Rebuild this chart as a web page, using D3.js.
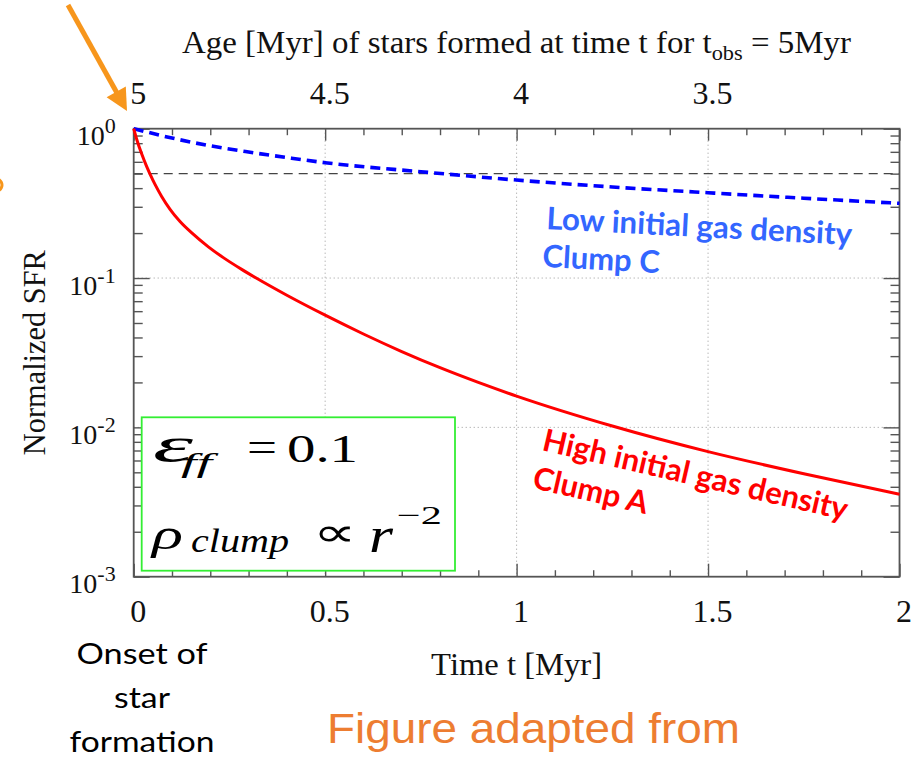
<!DOCTYPE html>
<html>
<head>
<meta charset="utf-8">
<script src="https://cdn.jsdelivr.net/npm/d3@7"></script>
<style>
  html, body { margin: 0; padding: 0; background: #fff; }
  svg { display: block; }
  .serif { font-family: "Liberation Serif", "Times New Roman", serif; }
</style>
</head>
<body>
<svg id="chart" width="913" height="761"></svg>
<script>
// Normalized star-formation rate of two clumps versus time since onset of star formation
const tObs = 5;                                   // observation epoch [Myr]
const timeTicks = [0, 0.5, 1, 1.5, 2];            // bottom axis (time t)
const ageTicks = [5, 4.5, 4, 3.5];                // top axis (age of stars)
const sfrTicks = [1, 0.1, 0.01, 0.001];           // log axis decades
const halfLevel = 0.5;                            // reference level

// Clump A: high initial gas density
const clumpATime = [0, 0.008, 0.021, 0.034, 0.043, 0.056, 0.073, 0.095, 0.121, 0.151, 0.195, 0.238,
                    0.282, 0.321, 0.4, 0.5, 0.6, 0.7, 0.8, 0.9, 1.0, 1.25, 1.5, 1.75, 2.0];
const clumpASfr  = [1, 0.847, 0.676, 0.557, 0.495, 0.422, 0.352, 0.2886, 0.239, 0.2012, 0.1618, 0.1349,
                    0.1143, 0.0996, 0.0767, 0.0564, 0.0422, 0.0322, 0.0251, 0.0200, 0.0162, 0.01021,
                    0.00688, 0.00489, 0.00357];

// Clump C: low initial gas density
const clumpCTime = [0, 0.1, 0.2, 0.3, 0.4, 0.5, 0.75, 1.0, 1.25, 1.5, 1.75, 2.0];
const clumpCSfr  = [1, 0.866, 0.768, 0.698, 0.641, 0.592, 0.515, 0.453, 0.407, 0.3726, 0.3424, 0.3165];

const svg = d3.select("#chart");
const plotLeft = 133.7, plotRight = 899.5, plotTop = 128.7, plotBottom = 576.7;

const x = d3.scaleLinear().domain([0, 2]).range([plotLeft, plotRight]);
const xAge = d3.scaleLinear().domain([tObs - 0, tObs - 2]).range([plotLeft, plotRight]);
const y = d3.scaleLog().domain([0.001, 1]).range([plotBottom, plotTop]);

const frameColor = "#555";

// grid
const grid = svg.append("g");
grid.selectAll("line.vg").data(timeTicks.slice(1, -1)).join("line")
  .attr("x1", d => x(d)).attr("x2", d => x(d)).attr("y1", plotTop).attr("y2", plotBottom)
  .attr("stroke", "#999").attr("stroke-width", 1).attr("stroke-dasharray", "1,3");
grid.selectAll("line.hg").data(sfrTicks.slice(1, -1)).join("line")
  .attr("x1", plotLeft).attr("x2", plotRight).attr("y1", d => y(d)).attr("y2", d => y(d))
  .attr("stroke", "#999").attr("stroke-width", 1).attr("stroke-dasharray", "1,3");

// reference level
svg.append("line")
  .attr("x1", plotLeft).attr("x2", plotRight).attr("y1", y(halfLevel)).attr("y2", y(halfLevel))
  .attr("stroke", "#444").attr("stroke-width", 1.2).attr("stroke-dasharray", "9,6");

// minor tick positions
const minorTime = d3.range(0, 2.0001, 0.1).map(v => +v.toFixed(1)).filter(v => !timeTicks.includes(v));
const minorAge = minorTime.map(v => +(tObs - v).toFixed(1));
const minorSfr = [];
[0.001, 0.01, 0.1].forEach(dec => { for (let k = 2; k <= 9; k++) minorSfr.push(dec * k); });

function styleAxis(g) {
  g.select(".domain").remove();
  g.selectAll(".tick line").attr("stroke", frameColor).attr("stroke-width", 1.4);
}

// bottom axis
svg.append("g").attr("transform", `translate(0,${plotBottom})`)
  .call(d3.axisBottom(x).tickValues(minorTime).tickSize(-6.5).tickFormat(""))
  .call(styleAxis);
svg.append("g").attr("transform", `translate(0,${plotBottom})`)
  .call(d3.axisBottom(x).tickValues(timeTicks).tickSize(-13).tickPadding(0).tickFormat(d3.format("")))
  .call(styleAxis)
  .call(g => g.selectAll(".tick text").attr("font-size", 32).attr("fill", "#111")
    .attr("dy", null).attr("y", 45).attr("x", 4).style("font-family", "Liberation Serif, serif"));

// top axis
svg.append("g").attr("transform", `translate(0,${plotTop})`)
  .call(d3.axisTop(xAge).tickValues(minorAge).tickSize(-6.5).tickFormat(""))
  .call(styleAxis);
svg.append("g").attr("transform", `translate(0,${plotTop})`)
  .call(d3.axisTop(xAge).tickValues([...ageTicks, 3]).tickSize(-12).tickPadding(0)
    .tickFormat(d => ageTicks.includes(d) ? d3.format("")(d) : ""))
  .call(styleAxis)
  .call(g => g.selectAll(".tick text").attr("font-size", 32).attr("fill", "#111")
    .attr("dy", null).attr("y", -25).attr("x", 4).style("font-family", "Liberation Serif, serif"));

// left and right axes
function yTicks(axisFn, tx) {
  svg.append("g").attr("transform", `translate(${tx},0)`)
    .call(axisFn(y).tickValues(minorSfr).tickSize(-9).tickFormat(""))
    .call(styleAxis);
  return svg.append("g").attr("transform", `translate(${tx},0)`)
    .call(axisFn(y).tickValues(sfrTicks).tickSize(-16).tickFormat(""))
    .call(styleAxis);
}
yTicks(d3.axisRight, plotRight);
const yl = yTicks(d3.axisLeft, plotLeft);
yl.selectAll(".tick").each(function (d) {
  const t = d3.select(this).append("text")
    .attr("x", -18).attr("y", 16).attr("text-anchor", "end")
    .attr("fill", "#111").style("font-family", "Liberation Serif, serif");
  t.append("tspan").attr("font-size", 28).text("10");
  t.append("tspan").attr("font-size", 22).attr("dy", -12).text(Math.round(Math.log10(d)));
});

// frame
svg.append("rect").attr("x", plotLeft).attr("y", plotTop)
  .attr("width", plotRight - plotLeft).attr("height", plotBottom - plotTop)
  .attr("fill", "none").attr("stroke", frameColor).attr("stroke-width", 1.8);

// curves
const line = d3.line().x(d => x(d[0])).y(d => y(d[1])).curve(d3.curveMonotoneX);
svg.append("path").datum(d3.zip(clumpCTime, clumpCSfr)).attr("d", line)
  .attr("fill", "none").attr("stroke", "#0000ff").attr("stroke-width", 3.6)
  .attr("stroke-dasharray", "10,6");
svg.append("path").datum(d3.zip(clumpATime, clumpASfr)).attr("d", line)
  .attr("fill", "none").attr("stroke", "#ff0000").attr("stroke-width", 3);

// parameter box
svg.append("rect").attr("x", 141.7).attr("y", 417.3).attr("width", 313.3).attr("height", 153.4)
  .attr("fill", "#fff").attr("stroke", "#33ee33").attr("stroke-width", 1.8);
const math = svg.append("g").attr("fill", "#000").style("font-family", "Liberation Serif, serif");
function mt(txt, xx, yy, size, len, italic) {
  math.append("text").attr("x", xx).attr("y", yy).attr("font-size", size)
    .attr("font-style", italic ? "italic" : "normal")
    .attr("textLength", len).attr("lengthAdjust", "spacingAndGlyphs").text(txt);
}
mt("ε", 153, 462, 50, 40, true);
mt("ff", 181, 472, 28, 31, true);
mt("=", 247, 461, 42, 30, false);
mt("0.1", 287, 462, 40, 71, false);
mt("ρ", 152, 549, 44, 31, true);
mt("clump", 191, 552, 34, 98, true);
mt("∝", 313, 546, 40, 44, false);
mt("r", 369, 552, 50, 24, true);
mt("−2", 397, 524, 26, 45, false);

// axis titles
const title = svg.append("text").attr("class", "serif").attr("x", 182).attr("y", 53)
  .attr("font-size", 31).attr("fill", "#111")
  .attr("textLength", 669).attr("lengthAdjust", "spacingAndGlyphs");
title.append("tspan").text("Age [Myr] of stars formed at time t for t");
title.append("tspan").attr("font-size", 21).attr("dy", 7).text("obs");
title.append("tspan").attr("dy", -7).text(" = 5Myr");

svg.append("text").attr("class", "serif").attr("font-size", 31).attr("fill", "#111")
  .attr("text-anchor", "middle").attr("transform", `translate(${(plotLeft + plotRight) / 2},675)`)
  .attr("textLength", 171).attr("lengthAdjust", "spacingAndGlyphs")
  .text("Time t [Myr]");
svg.append("text").attr("class", "serif").attr("font-size", 31).attr("fill", "#111")
  .attr("text-anchor", "middle").attr("transform", `translate(45,${(plotTop + plotBottom) / 2}) rotate(-90)`)
  .attr("textLength", 205).attr("lengthAdjust", "spacingAndGlyphs")
  .text("Normalized SFR");

// curve annotations
const sans = "Lato, 'Open Sans', sans-serif";
const blueNote = svg.append("g").attr("transform", "translate(546,229) rotate(3)")
  .attr("fill", "#3366ff").attr("font-weight", "bold").style("font-family", sans).attr("font-size", 31);
blueNote.append("text").attr("x", 0).attr("y", 0).attr("textLength", 306).attr("lengthAdjust", "spacingAndGlyphs")
  .text("Low initial gas density");
blueNote.append("text").attr("x", -2).attr("y", 38).text("Clump C");

const redNote = svg.append("g").attr("transform", "translate(541,450) rotate(13)")
  .attr("fill", "#ff0000").attr("font-weight", "bold").style("font-family", sans).attr("font-size", 31);
redNote.append("text").attr("x", 0).attr("y", 0).attr("textLength", 312).attr("lengthAdjust", "spacingAndGlyphs")
  .text("High initial gas density");
redNote.append("text").attr("x", -1).attr("y", 39).text("Clump A");

// onset marker
const orange = "#f7961c";
svg.append("line").attr("x1", 68).attr("y1", 5).attr("x2", 117).attr("y2", 93)
  .attr("stroke", orange).attr("stroke-width", 5);
svg.append("polygon").attr("points", "127,111 106.6,97.2 125.8,86.4").attr("fill", orange);
svg.append("ellipse").attr("cx", -9).attr("cy", 185).attr("rx", 11).attr("ry", 8)
  .attr("fill", "none").attr("stroke", orange).attr("stroke-width", 3);

const onset = svg.append("g").attr("text-anchor", "middle").attr("fill", "#000")
  .style("font-family", sans).attr("font-size", 29);
[["Onset of", 664, 131], ["star", 708, 56], ["formation", 752, 145]].forEach(([txt, yy, len]) => {
  onset.append("text").attr("x", 142).attr("y", yy)
    .attr("textLength", len).attr("lengthAdjust", "spacingAndGlyphs").text(txt);
});

svg.append("text").attr("x", 327).attr("y", 743).attr("fill", "#ed7d31")
  .style("font-family", "'Liberation Sans', Arial, sans-serif").attr("font-size", 43)
  .attr("textLength", 413).attr("lengthAdjust", "spacingAndGlyphs")
  .text("Figure adapted from");
</script>
</body>
</html>
